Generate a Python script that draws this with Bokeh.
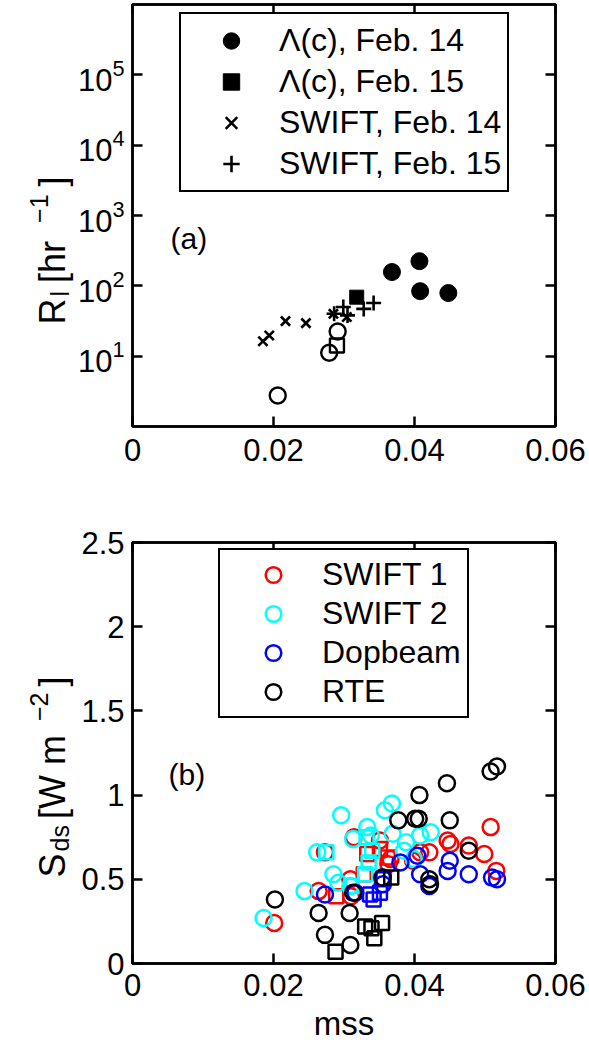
import math
from bokeh.plotting import figure
from bokeh.models import (Range1d, FixedTicker, LinearAxis, Label, Legend, LegendItem)
from bokeh.layouts import column, row
from bokeh.embed import file_html
from bokeh.resources import INLINE

FONT = "Liberation Sans"

# ---------------- data: panel (a) ----------------
lam14_x = [0.0368, 0.0407, 0.0408, 0.0448]
lam14_y = [157, 224, 84, 79]
lam15_x = [0.0318]
lam15_y = [69]
sw14_x = [0.0185, 0.0194, 0.0217, 0.0246, 0.0285, 0.0304]
sw14_y = [16.3, 19.7, 31.5, 29.5, 40, 36]
sw15_x = [0.0286, 0.0299, 0.0305, 0.0328, 0.0342]
sw15_y = [40, 50, 38, 47, 57]
open_c_x = [0.0206, 0.0279, 0.0291]
open_c_y = [2.76, 11.2, 22.4]
open_s_x = [0.0290]
open_s_y = [14.2]

legend_a = ["Λ(c), Feb. 14", "Λ(c), Feb. 15", "SWIFT, Feb. 14", "SWIFT, Feb. 15"]

# ---------------- data: panel (b) ----------------
s1_c_x = [0.0201, 0.0264, 0.0273, 0.0309, 0.0310, 0.0314, 0.0351, 0.0363, 0.0366, 0.0398,
          0.0408, 0.0421, 0.0447, 0.0451, 0.0477, 0.0499, 0.0508, 0.0516]
s1_c_y = [0.24, 0.43, 0.66, 0.50, 0.40, 0.75, 0.73, 0.59, 0.62, 0.61,
          0.66, 0.66, 0.73, 0.71, 0.70, 0.65, 0.81, 0.55]
s1_s_x = [0.0289, 0.0328, 0.0333, 0.0351, 0.0362]
s1_s_y = [0.40, 0.53, 0.65, 0.68, 0.63]

s2_c_x = [0.0186, 0.0244, 0.0262, 0.0285, 0.0292, 0.0296, 0.0309, 0.0313, 0.0333, 0.0338,
          0.0358, 0.0368, 0.0369, 0.0385, 0.0388, 0.0399, 0.0408, 0.0423]
s2_c_y = [0.27, 0.43, 0.66, 0.53, 0.48, 0.88, 0.46, 0.74, 0.81, 0.76,
          0.91, 0.95, 0.77, 0.67, 0.72, 0.62, 0.76, 0.78]
s2_s_x = [0.0275, 0.0311, 0.0330, 0.0335, 0.0340, 0.0332]
s2_s_y = [0.66, 0.46, 0.53, 0.60, 0.67, 0.75]

db_c_x = [0.0273, 0.0316, 0.0354, 0.0355, 0.0380, 0.0404, 0.0408, 0.0421, 0.0447, 0.0450,
          0.0477, 0.0510, 0.0517]
db_c_y = [0.41, 0.42, 0.51, 0.47, 0.60, 0.64, 0.53, 0.46, 0.55, 0.61,
          0.53, 0.51, 0.50]
db_s_x = [0.0337, 0.0342, 0.0351, 0.0356]
db_s_y = [0.41, 0.38, 0.42, 0.50]

rte_c_x = [0.0202, 0.0264, 0.0273, 0.0308, 0.0309, 0.0313, 0.0355, 0.0377, 0.0401, 0.0406,
           0.0407, 0.0421, 0.0422, 0.0446, 0.0450, 0.0477, 0.0508, 0.0517]
rte_c_y = [0.38, 0.30, 0.17, 0.30, 0.11, 0.42, 0.51, 0.85, 0.86, 0.86,
           1.00, 0.50, 0.47, 1.07, 0.85, 0.67, 1.14, 1.17]
rte_s_x = [0.0288, 0.0330, 0.0339, 0.0343, 0.0354, 0.0367]
rte_s_y = [0.07, 0.22, 0.21, 0.15, 0.24, 0.51]

legend_b = ["SWIFT 1", "SWIFT 2", "Dopbeam", "RTE"]
colors_b = ["#ff0000", "#00ffff", "#0000ff", "#000000"]

x_ticks = [0, 0.02, 0.04, 0.06]
x_tick_labels = ["0", "0.02", "0.04", "0.06"]
ya_ticks = [10, 100, 1000, 10000, 100000]
yb_ticks = [0, 0.5, 1, 1.5, 2, 2.5]
yb_tick_labels = ["0", "0.5", "1", "1.5", "2", "2.5"]

# axis-label pieces: (text, font px, baseline shift px, gap after px)
ylabel_a = [("R", 36, 0, 2), ("l", 25, 7, 8), (" [hr", 36, 0, 8), ("\u22121", 25, -14, 8), ("]", 36, 0, 0)]
ylabel_b = [("S", 36, 0, 2), ("ds", 25, 7, 6), (" [W m", 36, 0, 4), ("\u22122", 25, -14, 6), ("]", 36, 0, 0)]

# ---------------- helpers ----------------
W = {" ": 278, "[": 278, "]": 278, "h": 556, "r": 333, "R": 722, "l": 222, "S": 667,
     "d": 556, "s": 500, "W": 944, "m": 833, "\u2212": 584, "1": 556, "2": 556}

PAGE_W = 589
PAGE_H = 1044


def tw(s, size):
    return sum(W.get(c, 556) for c in s) / 1000.0 * size


def style_axis(ax, show_labels=True):
    ax.axis_line_width = 2.5
    ax.axis_line_color = "black"
    ax.major_tick_in = 10
    ax.major_tick_out = 0
    ax.major_tick_line_width = 2.5
    ax.major_tick_line_color = "black"
    ax.minor_tick_line_color = None
    ax.major_label_text_font = FONT
    ax.major_label_text_color = "black"
    if show_labels:
        ax.major_label_text_font_size = "31px"
    else:
        ax.major_label_text_font_size = "1px"
        ax.major_label_text_alpha = 0
        ax.major_label_standoff = 0


def rotated_label(p, pieces, x0, page_y_start):
    y = PAGE_H - page_y_start
    for txt, size, shift, gap in pieces:
        p.add_layout(Label(x=x0 + shift, y=y, text=txt,
                           angle=math.pi / 2, text_align="left", text_baseline="alphabetic",
                           text_font=FONT, text_font_size=f"{size}px", text_color="black"))
        y += tw(txt, size) + gap


def make_fig(height, top, bottom, yrange, log):
    kw = dict(width=PAGE_W, height=height, x_range=Range1d(0, 0.06), y_range=yrange,
              output_backend="svg", toolbar_location=None,
              min_border_left=132, min_border_right=34, min_border_top=top,
              min_border_bottom=bottom, background_fill_color="white",
              border_fill_color="white")
    if log:
        kw["y_axis_type"] = "log"
    p = figure(**kw)
    p.xgrid.visible = False
    p.ygrid.visible = False
    p.outline_line_color = "black"
    p.outline_line_width = 2.5
    p.outline_line_alpha = 1
    return p


def style_legend(leg, row_h, glyph_w, standoff, pad):
    leg.label_text_font = FONT
    leg.label_text_font_size = "32px"
    leg.label_text_color = "black"
    leg.glyph_height = row_h
    leg.label_height = row_h
    leg.glyph_width = glyph_w
    leg.label_standoff = standoff
    leg.padding = pad
    leg.spacing = 0
    leg.margin = 0
    leg.border_line_color = "black"
    leg.border_line_alpha = 1
    leg.border_line_width = 2.5
    leg.background_fill_color = "white"
    leg.background_fill_alpha = 1


# ---------------- panel (a) ----------------
p1 = make_fig(526, 4, 100, Range1d(1, 1e6), True)
p1.xaxis.ticker = FixedTicker(ticks=x_ticks)
p1.xaxis.major_label_overrides = {t: l for t, l in zip(x_ticks, x_tick_labels)}
p1.yaxis.ticker = FixedTicker(ticks=ya_ticks)
for ax in p1.xaxis + p1.yaxis:
    style_axis(ax)
p1.xaxis.major_label_standoff = 12
p1.yaxis.major_label_standoff = 8

top_ax = LinearAxis(ticker=FixedTicker(ticks=x_ticks),
                    major_label_overrides={t: "" for t in x_ticks})
style_axis(top_ax, False)
p1.add_layout(top_ax, "above")
right_ax = LinearAxis(ticker=FixedTicker(ticks=ya_ticks),
                      major_label_overrides={t: "" for t in ya_ticks})
style_axis(right_ax, False)
p1.add_layout(right_ax, "right")

r_l14 = p1.scatter(lam14_x, lam14_y, marker="circle", size=17, fill_color="black", line_color="black")
r_l15 = p1.scatter(lam15_x, lam15_y, marker="square", size=14, fill_color="black", line_color="black")
r_s14 = p1.scatter(sw14_x, sw14_y, marker="x", size=13, line_color="black", line_width=2.6)
r_s15 = p1.scatter(sw15_x, sw15_y, marker="cross", size=15, line_color="black", line_width=2.6)
p1.scatter(open_c_x, open_c_y, marker="circle", size=16, fill_color=None, line_color="black", line_width=2.4)
p1.scatter(open_s_x, open_s_y, marker="square", size=14, fill_color=None, line_color="black", line_width=2.4)

leg1 = Legend(items=[LegendItem(label=lbl, renderers=[r]) for lbl, r in
                     zip(legend_a, [r_l14, r_l15, r_s14, r_s15])],
              location=(47, 234), orientation="vertical")
style_legend(leg1, 41, 88, 4, 6)
p1.add_layout(leg1, "center")

p1.add_layout(Label(x=38, y=188, x_units="screen", y_units="screen", text="(a)",
                    text_baseline="middle", text_font=FONT, text_font_size="30px",
                    text_color="black"))

# ---------------- panel (b) ----------------
p2 = make_fig(518, 16, 79, Range1d(0, 2.5), False)
p2.xaxis.ticker = FixedTicker(ticks=x_ticks)
p2.xaxis.major_label_overrides = {t: l for t, l in zip(x_ticks, x_tick_labels)}
p2.yaxis.ticker = FixedTicker(ticks=yb_ticks)
p2.yaxis.major_label_overrides = {t: l for t, l in zip(yb_ticks, yb_tick_labels)}
for ax in p2.xaxis + p2.yaxis:
    style_axis(ax)
p2.xaxis.major_label_standoff = 10
p2.yaxis.major_label_standoff = 8
p2.xaxis.axis_label = "mss"
p2.xaxis.axis_label_text_font = FONT
p2.xaxis.axis_label_text_font_size = "33px"
p2.xaxis.axis_label_text_font_style = "normal"
p2.xaxis.axis_label_text_color = "black"
p2.xaxis.axis_label_standoff = 6

top_ax2 = LinearAxis(ticker=FixedTicker(ticks=x_ticks),
                     major_label_overrides={t: "" for t in x_ticks})
style_axis(top_ax2, False)
p2.add_layout(top_ax2, "above")
right_ax2 = LinearAxis(ticker=FixedTicker(ticks=yb_ticks),
                       major_label_overrides={t: "" for t in yb_ticks})
style_axis(right_ax2, False)
p2.add_layout(right_ax2, "right")

series_b = [(s1_c_x, s1_c_y, s1_s_x, s1_s_y), (s2_c_x, s2_c_y, s2_s_x, s2_s_y),
            (db_c_x, db_c_y, db_s_x, db_s_y), (rte_c_x, rte_c_y, rte_s_x, rte_s_y)]
items_b = []
for (cx, cy, sx, sy), col, lbl in zip(series_b, colors_b, legend_b):
    rc = p2.scatter(cx, cy, marker="circle", size=16, fill_color=None, line_color=col, line_width=2.5)
    p2.scatter(sx, sy, marker="square", size=14, fill_color=None, line_color=col, line_width=2.5)
    items_b.append(LegendItem(label=lbl, renderers=[rc]))

leg2 = Legend(items=items_b, location=(86, 245), orientation="vertical")
style_legend(leg2, 39, 96, 1, 5)
leg2.label_width = 140
p2.add_layout(leg2, "center")

p2.add_layout(Label(x=36, y=189, x_units="screen", y_units="screen", text="(b)",
                    text_baseline="middle", text_font=FONT, text_font_size="30px",
                    text_color="black"))

# ---------------- y-axis labels: transparent full-page overlay ----------------
pl = figure(width=PAGE_W, height=PAGE_H, x_range=Range1d(0, PAGE_W), y_range=Range1d(0, PAGE_H),
            output_backend="svg", toolbar_location=None, min_border=0,
            background_fill_color=None, border_fill_color=None)
pl.axis.visible = False
pl.grid.visible = False
pl.outline_line_color = None
pl.margin = (0, 0, 0, -PAGE_W)
rotated_label(pl, ylabel_a, 52, 324)
rotated_label(pl, ylabel_b, 52, 877)

layout = row(column(p1, p2), pl)
open("out.html", "w").write(file_html(layout, INLINE))
